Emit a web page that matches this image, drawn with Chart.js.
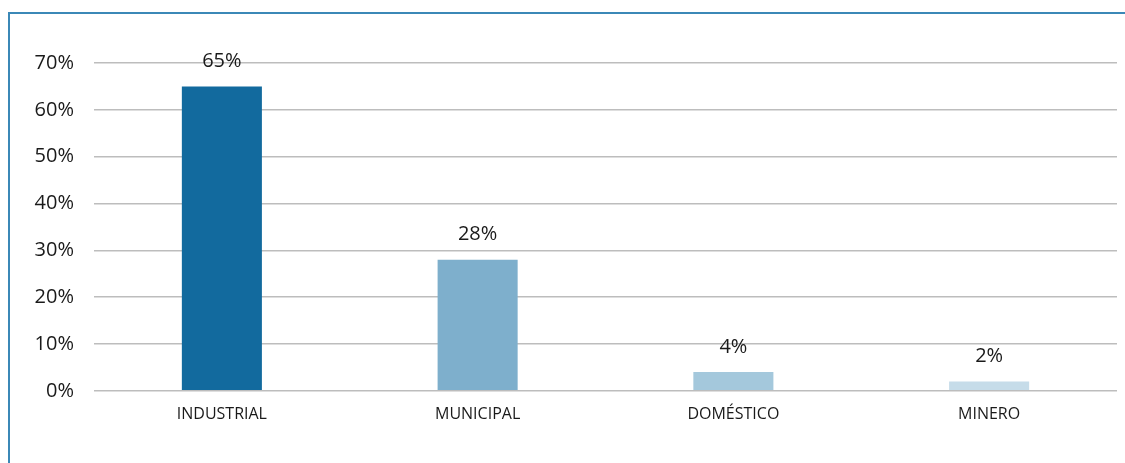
<!DOCTYPE html>
<html>
<head>
<meta charset="utf-8">
<script src="https://cdn.jsdelivr.net/npm/chart.js@4/dist/chart.umd.min.js"></script>
<style>
  html, body { margin: 0; padding: 0; background: #fff; }
  #wrap { position: relative; width: 1125px; height: 463px; overflow: hidden; }
  #frame {
    position: absolute; left: 8px; top: 12px; width: 1200px; height: 500px;
    border: 2px solid #3b88b7; box-sizing: border-box;
  }
  canvas { position: absolute; left: 0; top: 0; }
</style>
</head>
<body>
<div id="wrap">
  <div id="frame"></div>
  <canvas id="chart" width="1125" height="463"></canvas>
</div>
<script>
/* ===== data ===== */
const categories = ["INDUSTRIAL", "MUNICIPAL", "DOMÉSTICO", "MINERO"];
const values = [65, 28, 4, 2];
const barColors = ["#126a9e", "#7eafcc", "#a4c8dc", "#c6dce9"];
const yTicks = [0, 10, 20, 30, 40, 50, 60, 70];

const fontFamily = "'Open Sans', 'Noto Sans', sans-serif";

/* ===== value labels above bars ===== */
const valueLabels = {
  id: "valueLabels",
  afterDatasetsDraw(chart) {
    const ctx = chart.ctx;
    const meta = chart.getDatasetMeta(0);
    ctx.save();
    ctx.font = "20px " + fontFamily;
    ctx.fillStyle = "#1a1a1a";
    ctx.textAlign = "center";
    ctx.textBaseline = "middle";
    meta.data.forEach((bar, i) => {
      ctx.fillText(values[i] + "%", bar.x, bar.y - 25);
    });
    ctx.restore();
  }
};

new Chart(document.getElementById("chart"), {
  type: "bar",
  data: {
    labels: categories,
    datasets: [{
      data: values,
      backgroundColor: barColors,
      barPercentage: 0.313,
      categoryPercentage: 1
    }]
  },
  options: {
    responsive: false,
    animation: false,
    layout: { padding: { top: 63, right: 8, bottom: 33, left: 0 } },
    plugins: { legend: { display: false }, tooltip: { enabled: false } },
    scales: {
      x: {
        grid: { display: false },
        border: { display: false },
        ticks: {
          color: "#1a1a1a",
          font: { family: fontFamily, size: 16 },
          padding: 6,
          maxRotation: 0
        }
      },
      y: {
        min: 0,
        max: 70,
        afterBuildTicks(axis) {
          axis.ticks = yTicks.map(v => ({ value: v }));
        },
        afterFit(axis) {
          axis.width = 94;
        },
        grid: { color: "#bdbdbd", lineWidth: 1.5, drawTicks: false },
        border: { display: false },
        ticks: {
          color: "#1a1a1a",
          font: { family: fontFamily, size: 20 },
          padding: 20,
          callback: v => v + "%"
        }
      }
    }
  },
  plugins: [valueLabels]
});
</script>
</body>
</html>
